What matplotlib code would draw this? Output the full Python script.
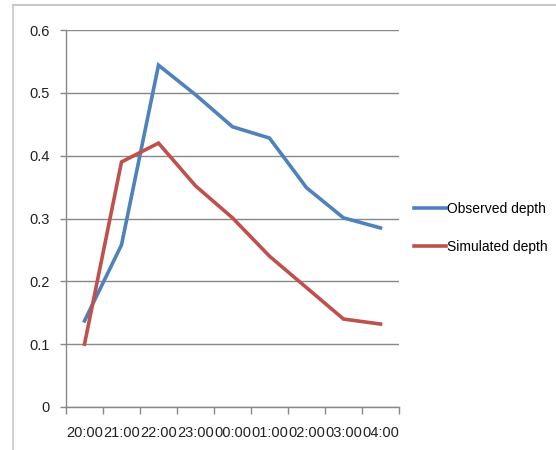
import matplotlib.pyplot as plt
from matplotlib.lines import Line2D

plt.rcParams['font.family'] = ['Liberation Sans', 'DejaVu Sans']

hours = ['20:00', '21:00', '22:00', '23:00', '00:00', '01:00', '02:00', '03:00', '04:00']
observed = [0.137, 0.258, 0.544, 0.497, 0.446, 0.428, 0.349, 0.301, 0.285]
simulated = [0.100, 0.390, 0.420, 0.352, 0.301, 0.240, 0.190, 0.140, 0.132]

BLUE = '#4F81BD'
RED = '#C0504D'
GRID = '#888888'


def main():
    fig = plt.figure(figsize=(5.56, 4.5), dpi=100)

    # chart-area frame: top and left edges only
    fig.add_artist(Line2D([13 / 556, 1], [1 - 5 / 450, 1 - 5 / 450],
                          transform=fig.transFigure, color='#c8c8c8', lw=1.5))
    fig.add_artist(Line2D([13 / 556, 13 / 556], [0, 1 - 5 / 450],
                          transform=fig.transFigure, color='#c8c8c8', lw=1.2))

    ax = fig.add_axes([66 / 556, 43 / 450, 333 / 556, 377 / 450])
    x = range(len(hours))
    ax.plot(x, observed, color=BLUE, lw=2.6, label='Observed depth', solid_joinstyle='miter')
    ax.plot(x, simulated, color=RED, lw=2.6, label='Simulated depth', solid_joinstyle='miter')

    ax.set_xlim(-0.5, len(hours) - 0.5)
    ax.set_ylim(0, 0.6)
    ax.set_yticks([0, 0.1, 0.2, 0.3, 0.4, 0.5, 0.6])
    ax.set_yticklabels(['0', '0.1', '0.2', '0.3', '0.4', '0.5', '0.6'])
    ax.yaxis.grid(True, color=GRID, lw=1)
    ax.set_axisbelow(True)

    # tick marks between categories, labels at centres
    ax.set_xticks([i - 0.5 for i in range(len(hours) + 1)])
    ax.set_xticklabels([])
    ax.set_xticks(list(x), minor=True)
    ax.set_xticklabels(hours, minor=True)
    ax.tick_params(axis='x', which='major', length=5, color=GRID, width=1)
    ax.tick_params(axis='x', which='minor', length=0, pad=14, labelsize=10.5, labelcolor='#222222')
    ax.tick_params(axis='y', length=4, color=GRID, width=1, pad=8, labelsize=10.5, labelcolor='#222222')

    for side in ['top', 'right']:
        ax.spines[side].set_visible(False)
    for side in ['left', 'bottom']:
        ax.spines[side].set_color(GRID)
        ax.spines[side].set_linewidth(1)

    fig.legend(loc='center left', bbox_to_anchor=(407 / 556, 1 - 228 / 450),
               frameon=False, fontsize=10, handlelength=2.3, handletextpad=0.05,
               labelspacing=1.75, borderpad=0)

    fig.savefig('out.png', dpi=100)


if __name__ == '__main__':
    main()
